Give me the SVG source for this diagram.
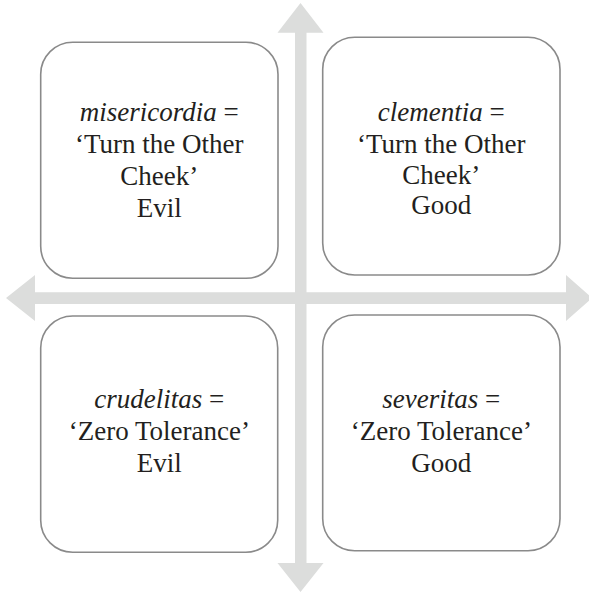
<svg xmlns="http://www.w3.org/2000/svg" width="589" height="594" viewBox="0 0 589 594">
<style>
.box{fill:#fff;stroke:#8a8a8a;stroke-width:1.6}
.arrow{fill:#dcdddc;stroke:none}
text{font-family:"Liberation Serif","Times New Roman",serif;font-size:27px;fill:#231f20;text-anchor:middle}
.it{font-style:italic}
</style>
<rect width="589" height="594" fill="#fff"/>
<g id="connectors">
<polygon class="arrow" points="6,298 35,275 35,292.3 566,292.3 566,275 592,298 566,321 566,304 35,304 35,321"/>
<polygon class="arrow" points="300.5,3 323.5,32.7 306.5,32.7 306.5,563 323.5,563 300.5,592 277.5,563 295,563 295,32.7 277.5,32.7"/>
</g>
<g id="node-misericordia">
<rect class="box" x="40.7" y="42.3" width="237.3" height="236" rx="32"/>
<text x="159.3" y="121"><tspan class="it">misericordia</tspan> =</text>
<text x="159.3" y="153">‘Turn the Other</text>
<text x="159.3" y="185">Cheek’</text>
<text x="159.3" y="217">Evil</text>
</g>
<g id="node-clementia">
<rect class="box" x="322.7" y="37.3" width="237.3" height="237.7" rx="32"/>
<text x="441.3" y="121"><tspan class="it">clementia</tspan> =</text>
<text x="441.3" y="152.5">‘Turn the Other</text>
<text x="441.3" y="183.5">Cheek’</text>
<text x="441.3" y="214">Good</text>
</g>
<g id="node-crudelitas">
<rect class="box" x="40.7" y="316" width="237" height="236.3" rx="32"/>
<text x="159.3" y="408"><tspan class="it">crudelitas</tspan> =</text>
<text x="159.3" y="440">‘Zero Tolerance’</text>
<text x="159.3" y="472">Evil</text>
</g>
<g id="node-severitas">
<rect class="box" x="322.7" y="315" width="237.3" height="235.7" rx="32"/>
<text x="441.3" y="407.5"><tspan class="it">severitas</tspan> =</text>
<text x="441.3" y="440">‘Zero Tolerance’</text>
<text x="441.3" y="472">Good</text>
</g>
</svg>
